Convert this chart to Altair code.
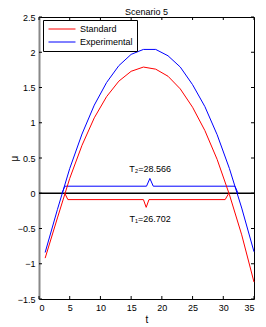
import altair as alt
import pandas as pd

# ---- data ----
t_vals = [1, 3, 5, 7, 9, 11, 13, 15, 17, 19, 21, 23, 25, 27, 29, 31, 33, 35]
standard = [-0.92, -0.35, 0.21, 0.68, 1.07, 1.37, 1.59, 1.73, 1.79, 1.76, 1.66, 1.48, 1.22, 0.89, 0.48, -0.02, -0.59, -1.26]
experimental = [-0.84, -0.23, 0.35, 0.84, 1.25, 1.57, 1.81, 1.97, 2.04, 2.04, 1.95, 1.79, 1.54, 1.23, 0.83, 0.35, -0.21, -0.83]
series = ["Standard", "Experimental"]
colors = ["red", "blue"]

x_ticks = [0, 5, 10, 15, 20, 25, 30, 35]
y_ticks = [-1.5, -1, -0.5, 0, 0.5, 1, 1.5, 2, 2.5]

t2_bx = [3.75, 4.2, 17.5, 18.05, 18.6, 31.9, 32.4]
t2_by = [0, 0.10, 0.10, 0.21, 0.10, 0.10, 0]
t1_bx = [4.2, 4.7, 17.0, 17.45, 17.9, 30.3, 30.9]
t1_by = [0, -0.09, -0.09, -0.2, -0.09, -0.09, 0]

labels = ["T\u2082=28.566", "T\u2081=26.702"]
label_t = [18.1, 18.1]
label_y = [0.35, -0.37]

W, H = 215, 282
FONT = "Liberation Sans"

curves = pd.DataFrame(
    {"t": t_vals * 2, "v": standard + experimental,
     "series": [series[0]] * len(t_vals) + [series[1]] * len(t_vals)}
)
br2 = pd.DataFrame({"t": t2_bx, "v": t2_by, "o": list(range(len(t2_bx)))})
br1 = pd.DataFrame({"t": t1_bx, "v": t1_by, "o": list(range(len(t1_bx)))})
lab = pd.DataFrame({"t": label_t, "v": label_y, "txt": labels})
xt = pd.DataFrame({"t": x_ticks})
yt = pd.DataFrame({"v": y_ticks})
zero = pd.DataFrame({"v": [0]})

xscale = alt.Scale(domain=[0, 35], nice=False, zero=False)
yscale = alt.Scale(domain=[-1.5, 2.5], nice=False, zero=False)

x_axis = alt.Axis(values=x_ticks, ticks=False, domain=False, grid=False, format="~g",
                  labelPadding=4, title="t", titlePadding=2)
y_axis = alt.Axis(values=y_ticks, ticks=False, domain=True, domainColor="#888888",
                  domainWidth=2, grid=False, labelPadding=4, title="\u03bc", format="~g",
                  titleX=-20)

X = alt.X("t:Q", scale=xscale, axis=x_axis)
Y = alt.Y("v:Q", scale=yscale, axis=y_axis)

lines = alt.Chart(curves).mark_line(strokeWidth=1).encode(
    x=X, y=Y,
    color=alt.Color("series:N", sort=series,
                    scale=alt.Scale(domain=series, range=colors),
                    legend=alt.Legend(title=None, orient="none", legendX=4, legendY=3,
                                      strokeColor="black", fillColor="white",
                                      padding=4, symbolType="M-0.78,0H5.22", symbolSize=81,
                                      symbolStrokeWidth=1, labelFontSize=9,
                                      labelOffset=23, labelColor="black",
                                      labelFont=FONT, rowPadding=3)),
)

zero_line = alt.Chart(zero).mark_rule(color="black", strokeWidth=1.3).encode(y=Y)

b2 = alt.Chart(br2).mark_line(color="blue", strokeWidth=1).encode(x=X, y=Y, order="o:Q")
b1 = alt.Chart(br1).mark_line(color="red", strokeWidth=1).encode(x=X, y=Y, order="o:Q")

txt = alt.Chart(lab).mark_text(fontSize=9, font=FONT, color="black").encode(
    x=X, y=Y, text="txt:N")

tick_bottom = alt.Chart(xt).mark_rule(color="black").encode(x=X, y=alt.value(H), y2=alt.value(H - 3))
tick_top = alt.Chart(xt).mark_rule(color="black").encode(x=X, y=alt.value(0), y2=alt.value(3))
tick_left = alt.Chart(yt).mark_rule(color="black").encode(y=Y, x=alt.value(0), x2=alt.value(3))
tick_right = alt.Chart(yt).mark_rule(color="black").encode(y=Y, x=alt.value(W), x2=alt.value(W - 3))

chart = alt.layer(
    zero_line, b2, b1, lines, txt, tick_bottom, tick_top, tick_left, tick_right
).properties(
    width=W, height=H,
    title=alt.TitleParams("Scenario 5", fontSize=9, fontWeight="normal", font=FONT,
                          offset=2, dy=6, color="black"),
    padding={"left": 31, "top": 9, "right": 4, "bottom": 26},
    autosize="none",
).configure_view(
    stroke="black", strokeWidth=1
).configure_axis(
    labelFont=FONT, labelFontSize=9, labelColor="black",
    titleFont=FONT, titleFontSize=10, titleFontWeight="normal", titleColor="black",
)

chart.save("out.html", embed_options={"renderer": "svg", "actions": False})
